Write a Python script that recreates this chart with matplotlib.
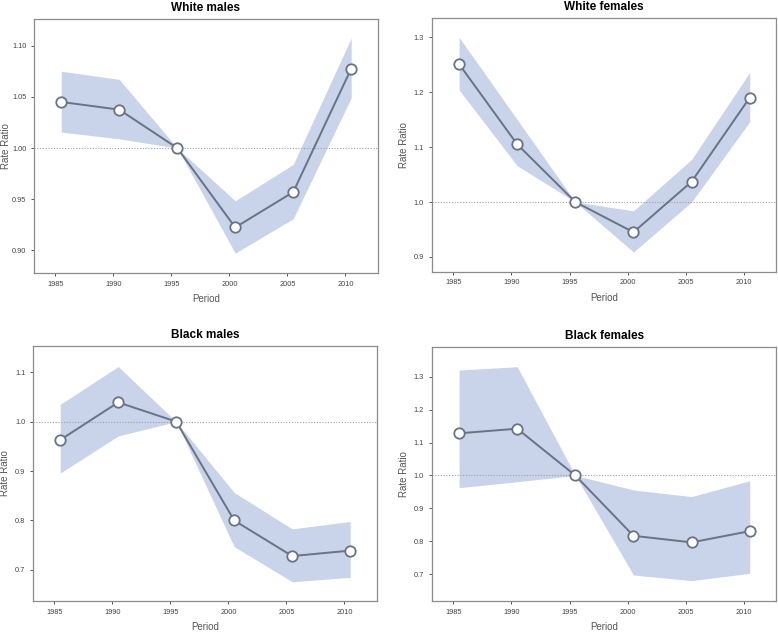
import numpy as np
import matplotlib
matplotlib.use("Agg")
import matplotlib.pyplot as plt

plt.rcParams["font.family"] = ["Liberation Sans", "DejaVu Sans"]

# Period midpoints and tick labels
periods = [1985.5, 1990.5, 1995.5, 2000.5, 2005.5, 2010.5]
period_ticks = [1985, 1990, 1995, 2000, 2005, 2010]

titles = ["White males", "White females", "Black males", "Black females"]

# Rate ratio estimates
wm_rr = [1.045, 1.0375, 1.0, 0.9225, 0.957, 1.0775]
wf_rr = [1.251, 1.105, 1.0, 0.945, 1.037, 1.19]
bm_rr = [0.963, 1.039, 1.0, 0.800, 0.728, 0.739]
bf_rr = [1.128, 1.142, 1.0, 0.817, 0.797, 0.831]

# Upper confidence limits
wm_hi = [1.075, 1.067, 1.0, 0.9485, 0.984, 1.1075]
wf_hi = [1.300, 1.150, 1.0, 0.984, 1.0775, 1.236]
bm_hi = [1.035, 1.1115, 1.0, 0.8565, 0.783, 0.798]
bf_hi = [1.320, 1.330, 1.0, 0.956, 0.936, 0.984]

# Lower confidence limits
wm_lo = [1.0156, 1.009, 1.0, 0.8974, 0.931, 1.049]
wf_lo = [1.204, 1.066, 1.0, 0.909, 1.0, 1.146]
bm_lo = [0.896, 0.971, 1.0, 0.747, 0.676, 0.685]
bf_lo = [0.963, 0.981, 1.0, 0.698, 0.681, 0.703]

y_ticks = [
    [0.90, 0.95, 1.00, 1.05, 1.10],
    [0.9, 1.0, 1.1, 1.2, 1.3],
    [0.7, 0.8, 0.9, 1.0, 1.1],
    [0.7, 0.8, 0.9, 1.0, 1.1, 1.2, 1.3],
]
y_fmt = ["{:.2f}", "{:.1f}", "{:.1f}", "{:.1f}"]
y_lims = [(0.878, 1.126), (0.873, 1.335), (0.637, 1.153), (0.619, 1.390)]

rr_all = [wm_rr, wf_rr, bm_rr, bf_rr]
hi_all = [wm_hi, wf_hi, bm_hi, bf_hi]
lo_all = [wm_lo, wf_lo, bm_lo, bf_lo]

positions = [
    [0.0437, 0.568, 0.442, 0.402],
    [0.555, 0.570, 0.443, 0.4015],
    [0.0424, 0.049, 0.442, 0.4035],
    [0.555, 0.049, 0.443, 0.402],
]

fill_col = "#c9d3ea"
line_col = "#687385"
frame_col = "#8c8c8c"

fig = plt.figure(figsize=(7.78, 6.32), dpi=100)

for i in range(4):
    ax = fig.add_axes(positions[i])
    ax.fill_between(periods, lo_all[i], hi_all[i], color=fill_col, linewidth=0, zorder=1)
    ax.axhline(1.0, color="#a0a0a0", linestyle=(0, (1, 1.5)), linewidth=0.8, zorder=2)
    ax.plot(periods, rr_all[i], color=line_col, linewidth=1.4, marker="o",
            markersize=7.5, markerfacecolor="white", markeredgecolor=line_col,
            markeredgewidth=1.3, zorder=3)
    ax.set_xlim(1983.15, 2012.8)
    ax.set_ylim(*y_lims[i])
    ax.set_xticks(period_ticks)
    ax.set_xticklabels([str(p) for p in period_ticks])
    ax.set_yticks(y_ticks[i])
    ax.set_yticklabels([y_fmt[i].format(v) for v in y_ticks[i]])
    ax.tick_params(axis="both", labelsize=5.3, colors="#555555", length=2.5,
                   width=0.7, pad=3, labelcolor="#444444")
    for s in ax.spines.values():
        s.set_color(frame_col)
        s.set_linewidth(0.9)
    ax.set_title(titles[i], fontsize=8.5, fontweight="bold", pad=6)
    ax.set_xlabel("Period", fontsize=7, color="#555555", va="center")
    ax.xaxis.set_label_coords(0.5, -0.103)
    ax.set_ylabel("Rate Ratio", fontsize=7, color="#555555", va="center")
    ax.yaxis.set_label_coords(-0.082, 0.5)

fig.savefig("out.png", dpi=100)
